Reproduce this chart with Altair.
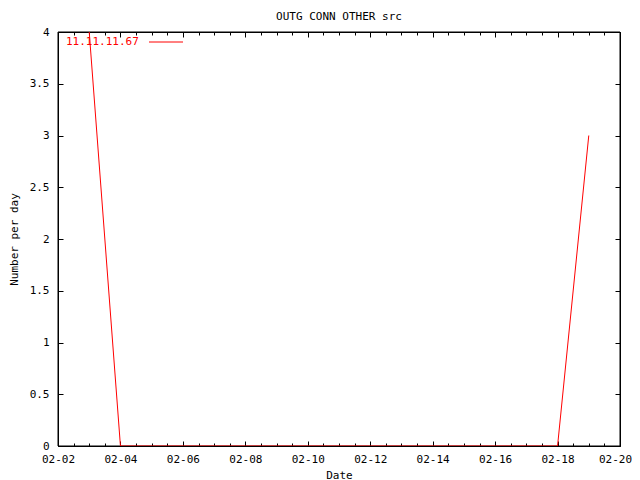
import altair as alt
import pandas as pd

# Data
dates = ["2004-02-03", "2004-02-04", "2004-02-05", "2004-02-06", "2004-02-07",
         "2004-02-08", "2004-02-09", "2004-02-10", "2004-02-11", "2004-02-12",
         "2004-02-13", "2004-02-14", "2004-02-15", "2004-02-16", "2004-02-17",
         "2004-02-18", "2004-02-19"]
values = [4, 0, 0, 0, 0, 0, 0, 0, 0, 0, 0, 0, 0, 0, 0, 0, 3]
series_name = "11.11.11.67"
title_text = "OUTG CONN OTHER src"
x_title = "Date"
y_title = "Number per day"
major_days = [2, 4, 6, 8, 10, 12, 14, 16, 18, 20]
y_ticks = [0, 0.5, 1, 1.5, 2, 2.5, 3, 3.5, 4]

df = pd.DataFrame({"date": dates, "value": values, "series": series_name})

FONT = "DejaVu Sans Mono"
RED = "#ff0000"
W, H = 562, 414

major_vals = [alt.DateTime(year=2004, month=2, date=d, utc=True) for d in major_days]
minor_vals = []
for d in range(2, 20):
    for h in (12,) if d % 2 == 0 else (0, 12):
        minor_vals.append(alt.DateTime(year=2004, month=2, date=d, hours=h, utc=True))

xscale = alt.Scale(type="utc", domain=[alt.DateTime(year=2004, month=2, date=2, utc=True),
                                       alt.DateTime(year=2004, month=2, date=20, utc=True)])
yscale = alt.Scale(domain=[0, 4], nice=False, zero=False)

base = alt.Chart(df)

def x_axis(orient, vals, size, labels=False, title=None):
    kw = dict(orient=orient, values=vals, tickSize=size, offset=-size, domain=False,
              grid=False, labels=labels, tickColor="black")
    if labels:
        kw.update(format="%m-%d", labelPadding=7, labelFont=FONT, labelFontSize=11,
                  labelColor="black", labelFlush=False, labelOverlap=False,
                  labelOffset={"condition": {"test": "datum.value >= utc(2004, 1, 20)", "value": -5},
                               "value": 0})
    if title:
        kw.update(title=title, titleFont=FONT, titleFontSize=11, titleFontWeight="normal",
                  titleColor="black", titlePadding=5)
    else:
        kw.update(title=None)
    return alt.Axis(**kw)

def y_axis(orient, labels=False, title=None):
    kw = dict(orient=orient, values=y_ticks, tickSize=5, offset=-5, domain=False,
              grid=False, labels=labels, tickColor="black")
    if labels:
        kw.update(format="~g", labelPadding=9, labelFont=FONT, labelFontSize=11,
                  labelColor="black", labelFlush=False, labelOverlap=False)
    if title:
        kw.update(title=title, titleFont=FONT, titleFontSize=11, titleFontWeight="normal",
                  titleColor="black", titlePadding=10)
    else:
        kw.update(title=None)
    return alt.Axis(**kw)

line = base.mark_line(color=RED, strokeWidth=1, clip=True).encode(
    x=alt.X("date:T", scale=xscale, axis=x_axis("bottom", major_vals, 5, labels=True, title=x_title)),
    y=alt.Y("value:Q", scale=yscale, axis=y_axis("left", labels=True, title=y_title)),
)
top_right = base.mark_line(opacity=0).encode(
    x=alt.X("date:T", scale=xscale, axis=x_axis("top", major_vals, 5)),
    y=alt.Y("value:Q", scale=yscale, axis=y_axis("right")),
)
minor_bottom = base.mark_line(opacity=0).encode(
    x=alt.X("date:T", scale=xscale, axis=x_axis("bottom", minor_vals, 3)),
    y=alt.Y("value:Q", scale=yscale, axis=None),
)
minor_top = base.mark_line(opacity=0).encode(
    x=alt.X("date:T", scale=xscale, axis=x_axis("top", minor_vals, 3)),
    y=alt.Y("value:Q", scale=yscale, axis=None),
)

frame_df = pd.DataFrame({"f": [0]})
frame = alt.Chart(frame_df).mark_rect(fill=None, fillOpacity=0, stroke="black", strokeWidth=1).encode(
    x=alt.value(0), x2=alt.value(W), y=alt.value(0), y2=alt.value(H))

leg_df = pd.DataFrame({"series": [series_name]})
leg_text = alt.Chart(leg_df).mark_text(align="left", baseline="middle", font=FONT,
                                       fontSize=11, color=RED).encode(
    text="series:N", x=alt.value(8), y=alt.value(10))
leg_line = alt.Chart(leg_df).mark_rule(color=RED, strokeWidth=1).encode(
    x=alt.value(91), x2=alt.value(125), y=alt.value(10))

chart = alt.layer(frame, line, top_right, minor_bottom, minor_top,
                  leg_text, leg_line).resolve_axis(
    x="independent", y="independent"
).properties(
    width=W, height=H,
    background="white",
    title=alt.Title(title_text, font=FONT, fontSize=11, fontWeight="normal", color="black",
                    anchor="middle", offset=4),
    autosize=alt.AutoSizeParams(type="none"),
    padding={"left": 50, "top": 24, "right": 12, "bottom": 34},
).configure_view(stroke="black", strokeWidth=1)

chart.save("out.html", embed_options={"renderer": "svg", "actions": False})
